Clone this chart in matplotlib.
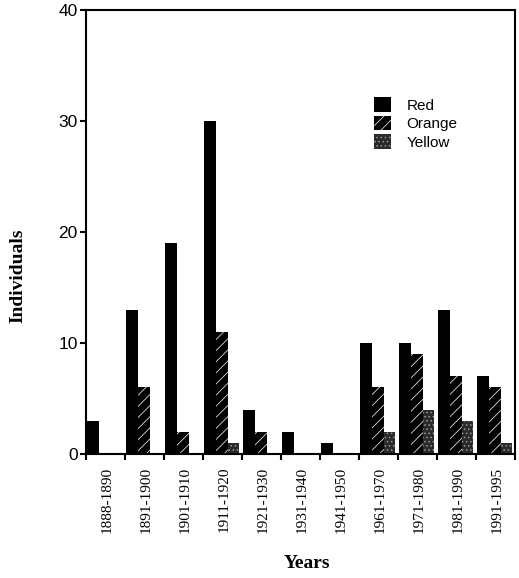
import numpy as np
import matplotlib.pyplot as plt

periods = ['1888-1890', '1891-1900', '1901-1910', '1911-1920', '1921-1930',
           '1931-1940', '1941-1950', '1961-1970', '1971-1980', '1981-1990',
           '1991-1995']
red = [3, 13, 19, 30, 4, 2, 1, 10, 10, 13, 7]
orange = [0, 6, 2, 11, 2, 0, 0, 6, 9, 7, 6]
yellow = [0, 0, 0, 1, 0, 0, 0, 2, 4, 3, 1]

plt.rcParams['hatch.linewidth'] = 0.6

fig = plt.figure(figsize=(5.19, 5.78), dpi=100)
ax = fig.add_axes([0.1657, 0.2145, 0.8266, 0.768])

x = np.arange(len(periods))
w = 0.3
ax.bar(x + 0.03, red, w, align='edge', color='black', linewidth=0, label='Red')
ax.bar(x + 0.03 + w, orange, w, align='edge', color='black', edgecolor='#dddddd',
       hatch='///', linewidth=0, label='Orange')
ax.bar(x + 0.03 + 2 * w, yellow, w, align='edge', color='#2a2a2a', edgecolor='#999999',
       hatch='....', linewidth=0, label='Yellow')

ax.set_xlim(0, len(periods))
ax.set_ylim(0, 40)
ax.set_yticks([0, 10, 20, 30, 40])
ax.set_yticklabels(['0', '10', '20', '30', '40'], family='Liberation Sans', fontsize=12.5)
ax.set_xticks(x + 0.55)
ax.set_xticklabels(periods, rotation=90, family='Liberation Serif', fontsize=11)
ax.set_xticks(np.arange(len(periods) + 1), minor=True)
ax.tick_params(axis='x', which='major', length=0, pad=9)
ax.tick_params(axis='x', which='minor', length=4, width=1.5, direction='out')
ax.tick_params(axis='y', length=4, width=1.5, direction='out', pad=2)
for s in ax.spines.values():
    s.set_linewidth(1.5)

fig.text(18 / 519, 1 - 276 / 578, 'Individuals', rotation=90, ha='center', va='center',
         family='Liberation Serif', fontweight='bold', fontsize=14)
fig.text(307 / 519, 1 - 563 / 578, 'Years', ha='center', va='center',
         family='Liberation Serif', fontweight='bold', fontsize=14)

leg = ax.legend(loc='upper left', bbox_to_anchor=(0.64, 0.835), frameon=False,
                prop={'family': 'Liberation Sans', 'size': 11},
                handlelength=1.1, handleheight=1.1, handletextpad=1.0, labelspacing=0.2)

fig.savefig('out.png', dpi=100)
